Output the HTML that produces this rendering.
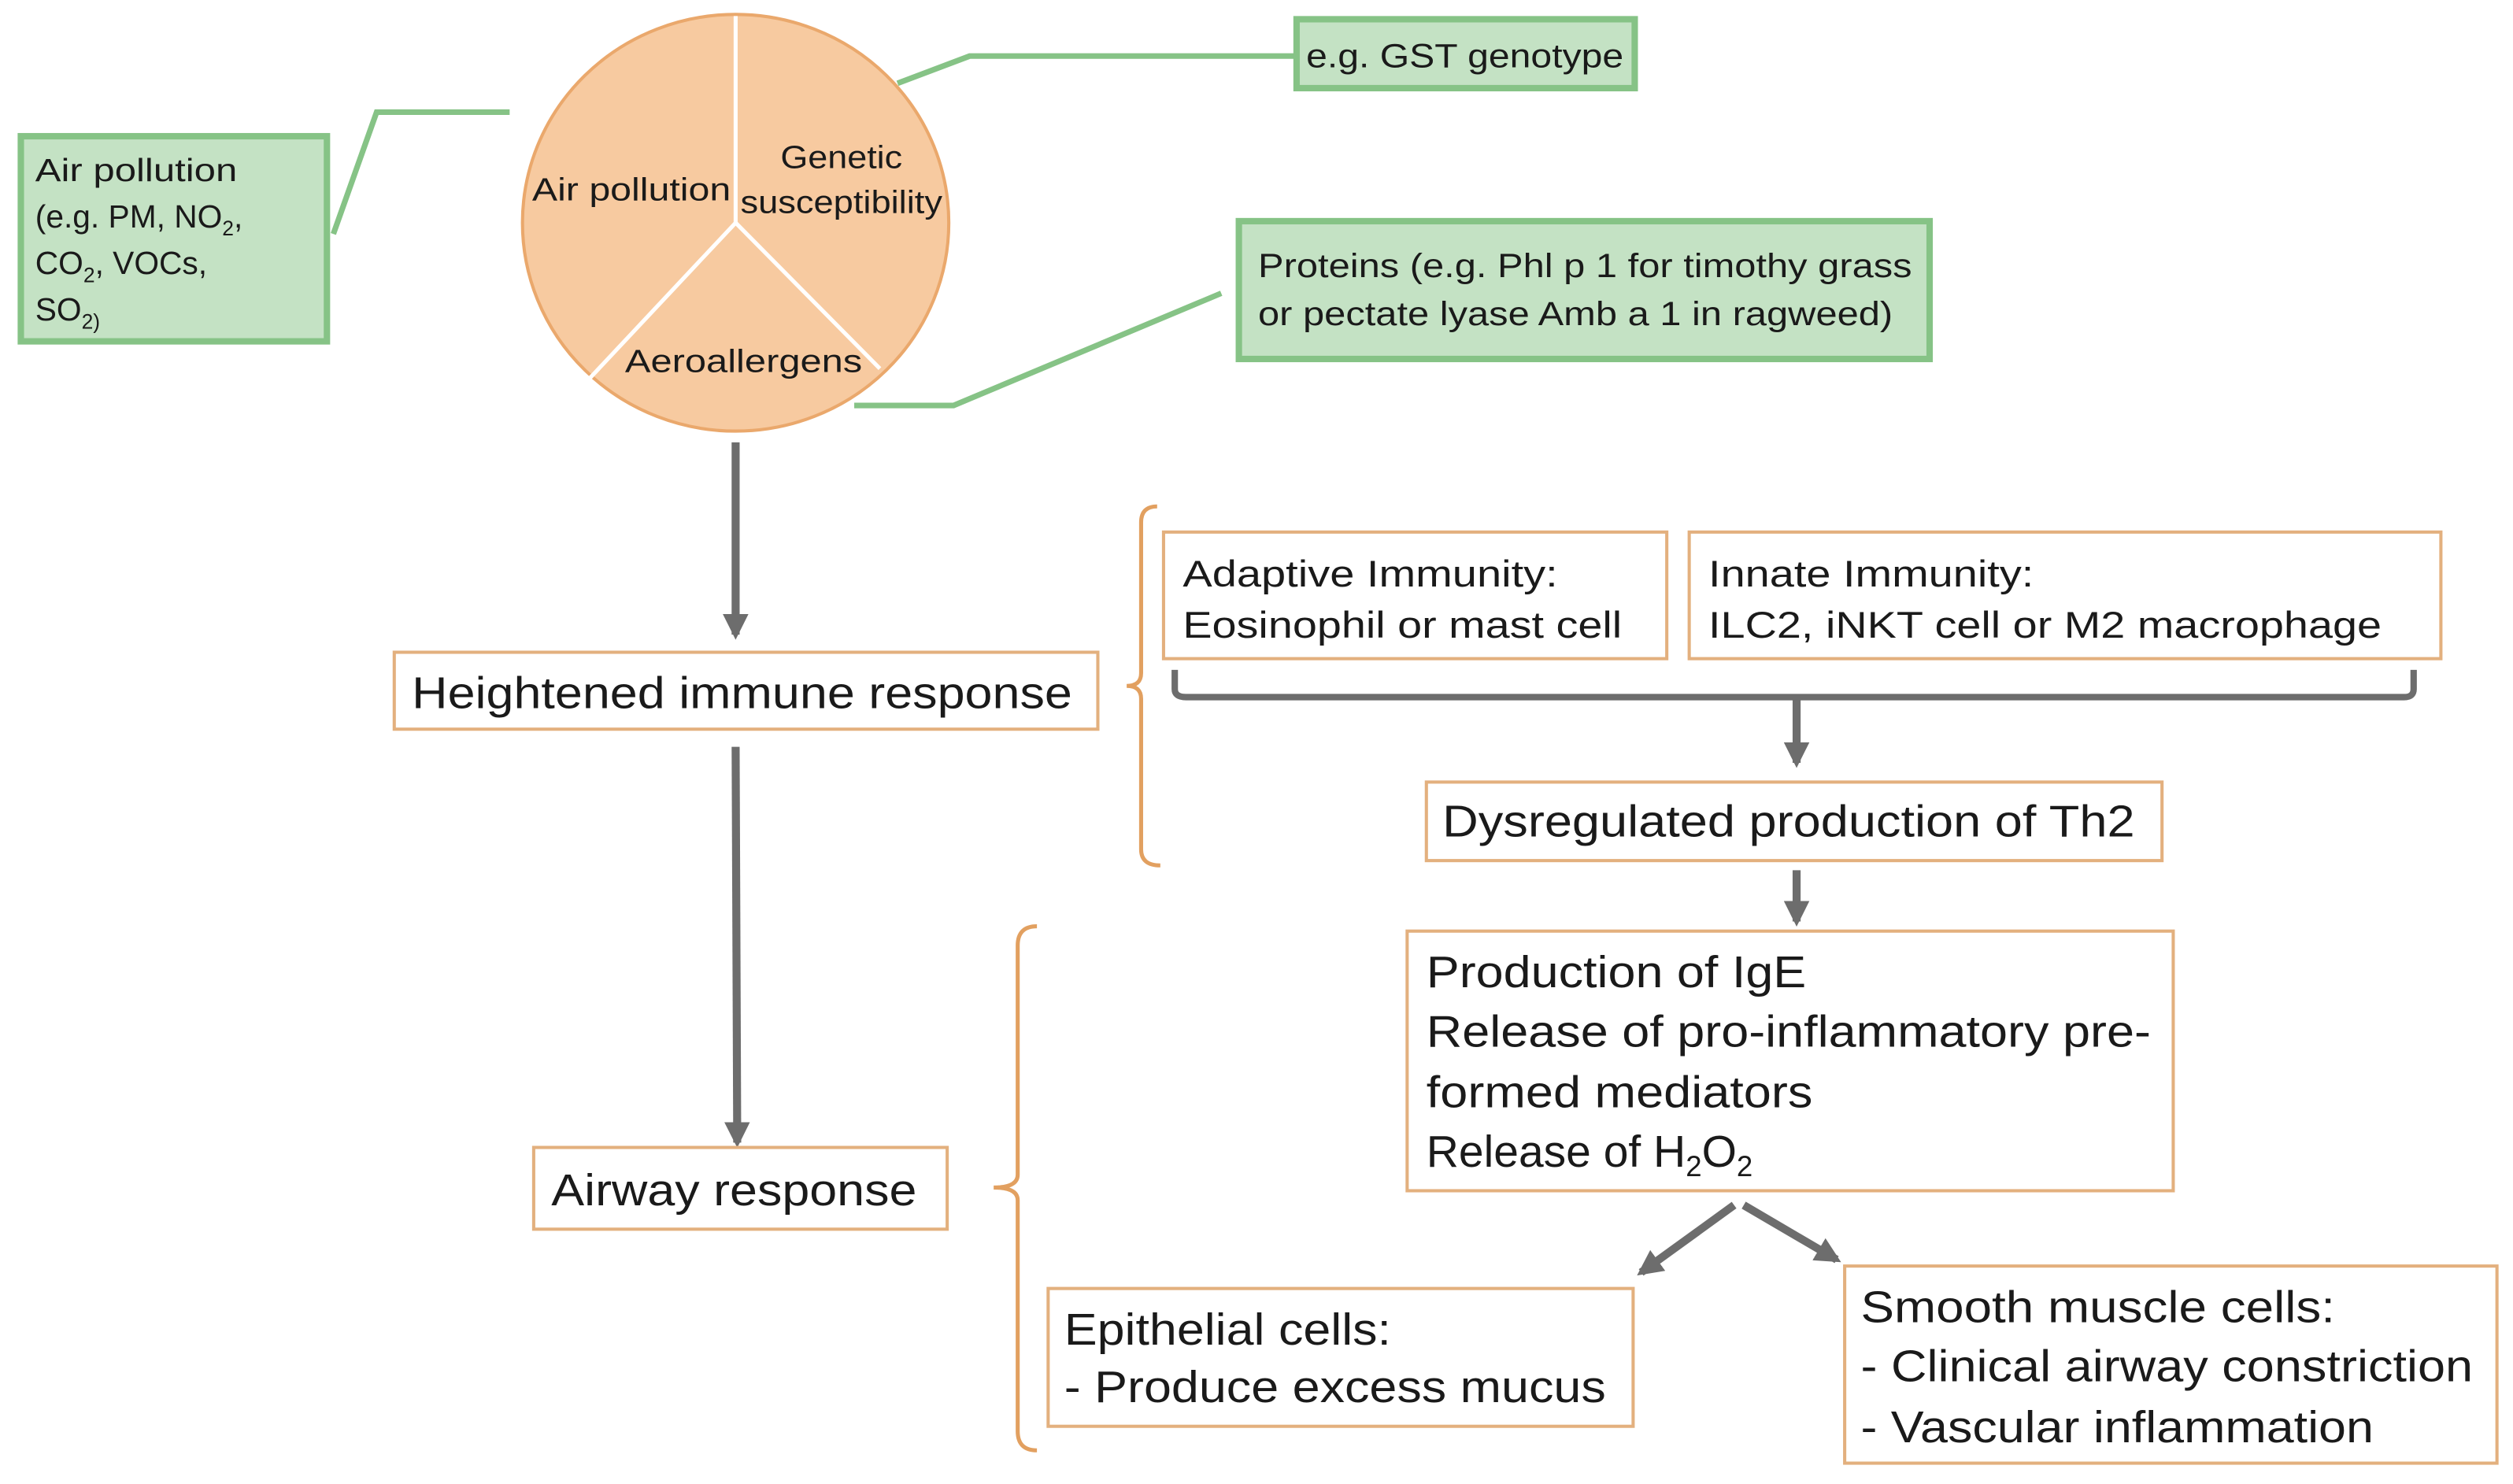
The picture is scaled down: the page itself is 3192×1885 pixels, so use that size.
<!DOCTYPE html>
<html><head><meta charset="utf-8"><style>
html,body{margin:0;padding:0;background:#fff;}
svg{display:block;}
text{font-family:"Liberation Sans Narrow","Liberation Sans",sans-serif;fill:#1a1a1a;}
</style></head><body>
<svg width="3192" height="1885" viewBox="0 0 1568 926" preserveAspectRatio="none" xmlns="http://www.w3.org/2000/svg">
<defs>
<marker id="ah" viewBox="0 0 10 10" refX="8" refY="5" markerWidth="3.2" markerHeight="3.2" orient="auto"><path d="M0,0 L10,5 L0,10 Z" fill="#6d6d6d"/></marker>
</defs>
<!-- circle -->
<ellipse cx="459" cy="139" rx="133" ry="130" fill="#f7caa0" stroke="#eaa86c" stroke-width="2"/>
<g stroke="#fff" stroke-width="2.5">
<line x1="459" y1="139" x2="459" y2="10"/>
<line x1="459" y1="139" x2="368" y2="236"/>
<line x1="459" y1="139" x2="549" y2="230"/>
</g>
<g font-size="20">
<text x="332" y="125" textLength="124" lengthAdjust="spacingAndGlyphs">Air pollution</text>
<text x="487" y="105" textLength="76" lengthAdjust="spacingAndGlyphs">Genetic</text>
<text x="462" y="133" textLength="126" lengthAdjust="spacingAndGlyphs">susceptibility</text>
<text x="390" y="232" textLength="148" lengthAdjust="spacingAndGlyphs">Aeroallergens</text>
</g>
<!-- green connectors -->
<g stroke="#86c386" stroke-width="3.5" fill="none">
<polyline points="208,146 235,70 318,70"/>
<polyline points="560,52 605,35 808,35"/>
<polyline points="533,253 595,253 762,183"/>
</g>
<!-- green boxes -->
<rect x="13" y="85" width="191" height="128" fill="#c4e2c4" stroke="#86c386" stroke-width="4"/>
<g font-size="20">
<text x="22" y="113" textLength="126" lengthAdjust="spacingAndGlyphs">Air pollution</text>
<text x="22" y="142">(e.g. PM, NO<tspan font-size="13" dy="5">2</tspan><tspan dy="-5">,</tspan></text>
<text x="22" y="171">CO<tspan font-size="13" dy="5">2</tspan><tspan dy="-5">, VOCs,</tspan></text>
<text x="22" y="200">SO<tspan font-size="13" dy="5">2)</tspan></text>
</g>
<rect x="809" y="12" width="211" height="43" fill="#c4e2c4" stroke="#86c386" stroke-width="4"/>
<text x="815" y="42" font-size="21" textLength="198" lengthAdjust="spacingAndGlyphs">e.g. GST genotype</text>
<rect x="773" y="138" width="431" height="86" fill="#c4e2c4" stroke="#86c386" stroke-width="4"/>
<g font-size="21">
<text x="785" y="173" textLength="408" lengthAdjust="spacingAndGlyphs">Proteins (e.g. Phl p 1 for timothy grass</text>
<text x="785" y="203" textLength="396" lengthAdjust="spacingAndGlyphs">or pectate lyase Amb a 1 in ragweed)</text>
</g>
<!-- gray arrows -->
<g stroke="#6d6d6d" stroke-width="5" fill="none" marker-end="url(#ah)">
<line x1="459" y1="276" x2="459" y2="396"/>
<line x1="459" y1="466" x2="460" y2="713"/>
<line x1="1121" y1="435" x2="1121" y2="476"/>
<line x1="1121" y1="543" x2="1121" y2="575"/>
<line x1="1082" y1="752" x2="1024" y2="794"/>
<line x1="1088" y1="752" x2="1146" y2="786"/>
</g>
<path d="M733,418 L733,430 Q733,435 740,435 L1500,435 Q1506,435 1506,430 L1506,418" stroke="#6d6d6d" stroke-width="4" fill="none"/>
<!-- orange boxes -->
<g fill="#fff" stroke="#e3b07e" stroke-width="2">
<rect x="246" y="407" width="439" height="48"/>
<rect x="333" y="716" width="258" height="51"/>
<rect x="726" y="332" width="314" height="79"/>
<rect x="1054" y="332" width="469" height="79"/>
<rect x="890" y="488" width="459" height="49"/>
<rect x="878" y="581" width="478" height="162"/>
<rect x="654" y="804" width="365" height="86"/>
<rect x="1151" y="790" width="407" height="123"/>
</g>
<!-- brackets -->
<g stroke="#e2a060" stroke-width="2.5" fill="none">
<path d="M722,316 Q712,316 712,326 L712,420 Q712,428 703,428 Q712,428 712,436 L712,530 Q712,540 724,540"/>
<path d="M647,578 Q635,578 635,590 L635,733 Q635,741 620,741 Q635,741 635,749 L635,893 Q635,905 647,905"/>
</g>
<g font-size="28">
<text x="257" y="442" textLength="412" lengthAdjust="spacingAndGlyphs">Heightened immune response</text>
<text x="344" y="752" textLength="228" lengthAdjust="spacingAndGlyphs">Airway response</text>
<text x="900" y="522" textLength="432" lengthAdjust="spacingAndGlyphs">Dysregulated production of Th2</text>
<text x="890" y="616" textLength="237" lengthAdjust="spacingAndGlyphs">Production of IgE</text>
<text x="890" y="653" textLength="452" lengthAdjust="spacingAndGlyphs">Release of pro-inflammatory pre-</text>
<text x="890" y="691" textLength="241" lengthAdjust="spacingAndGlyphs">formed mediators</text>
<text x="890" y="728">Release of H<tspan font-size="18" dy="6">2</tspan><tspan dy="-6">O</tspan><tspan font-size="18" dy="6">2</tspan></text>
<text x="664" y="839" textLength="204" lengthAdjust="spacingAndGlyphs">Epithelial cells:</text>
<text x="664" y="875" textLength="338" lengthAdjust="spacingAndGlyphs">- Produce excess mucus</text>
<text x="1161" y="825" textLength="296" lengthAdjust="spacingAndGlyphs">Smooth muscle cells:</text>
<text x="1161" y="862" textLength="382" lengthAdjust="spacingAndGlyphs">- Clinical airway constriction</text>
<text x="1161" y="900" textLength="320" lengthAdjust="spacingAndGlyphs">- Vascular inflammation</text>
</g>
<g font-size="23">
<text x="738" y="366" textLength="234" lengthAdjust="spacingAndGlyphs">Adaptive Immunity:</text>
<text x="738" y="398" textLength="274" lengthAdjust="spacingAndGlyphs">Eosinophil or mast cell</text>
<text x="1066" y="366" textLength="203" lengthAdjust="spacingAndGlyphs">Innate Immunity:</text>
<text x="1066" y="398" textLength="420" lengthAdjust="spacingAndGlyphs">ILC2, iNKT cell or M2 macrophage</text>
</g>
</svg>
</body></html>
